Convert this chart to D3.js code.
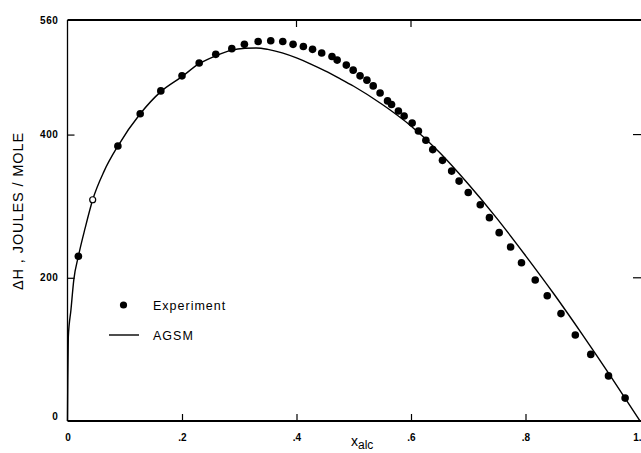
<!DOCTYPE html>
<html>
<head>
<meta charset="utf-8">
<script src="https://cdn.jsdelivr.net/npm/d3@7"></script>
<style>
  html, body { margin: 0; padding: 0; background: #fff; }
  svg { display: block; }
  text { font-family: "Liberation Sans", Arial, sans-serif; fill: #000; }
</style>
</head>
<body>
<div id="chart"></div>
<script>
// experiment points (mole fraction alcohol, heat of mixing J/mol)
const expX = [0.019, 0.088, 0.127, 0.163, 0.2, 0.23, 0.259, 0.287, 0.309, 0.333,
  0.355, 0.376, 0.394, 0.412, 0.428, 0.444, 0.462, 0.471, 0.487, 0.499,
  0.511, 0.523, 0.534, 0.546, 0.559, 0.566, 0.578, 0.588, 0.602, 0.613,
  0.626, 0.638, 0.655, 0.671, 0.684, 0.7, 0.721, 0.737, 0.754, 0.774,
  0.793, 0.817, 0.838, 0.862, 0.887, 0.914, 0.945, 0.974]
const expY = [230, 384, 429, 461, 482, 500, 512, 520, 526, 530,
  531, 530, 526, 523, 519, 514, 509, 504, 497, 490,
  482, 476, 468, 458, 447, 442, 433, 426, 416, 405,
  392, 379, 364, 349, 335, 319, 302, 284, 263, 243,
  221, 197, 175, 150, 120, 93, 63, 32]
// the single open point
const openX = [0.044]
const openY = [309]

// AGSM model curve
const agsmX = [0, 0.0005, 0.0014, 0.006, 0.011, 0.019, 0.031, 0.044, 0.064, 0.088,
  0.127, 0.163, 0.2, 0.23, 0.259, 0.287, 0.31, 0.33, 0.35, 0.375,
  0.4, 0.425, 0.45, 0.475, 0.5, 0.55, 0.6, 0.65, 0.7, 0.75,
  0.8, 0.85, 0.9, 0.95, 1.0]
const agsmY = [0, 57, 117, 155, 197, 230, 270, 309, 349, 384,
  429, 460, 481, 499, 510, 518, 520.5, 521, 519, 514,
  507, 498.5, 489, 478.5, 467.5, 442, 412, 375, 331, 283,
  231, 177, 120, 61, 0]

const xTickVals = [0, 0.2, 0.4, 0.6, 0.8, 1.0]
const xTickLabels = ['0', '.2', '.4', '.6', '.8', '1.']
const yTickVals = [0, 200, 400, 560]
const yTickLabels = ['0', '200', '400', '560']
const legendLabels = ['Experiment', 'AGSM']

const W = 641, H = 453
const svg = d3.select('#chart').append('svg').attr('width', W).attr('height', H)

const x = d3.scaleLinear().domain([0, 1]).range([67.5, 640])
const y = d3.scaleLinear().domain([0, 560]).range([421, 20])

// frame lines
svg.append('line')
  .attr('x1', x(0)).attr('x2', W).attr('y1', y(0)).attr('y2', y(0))
  .attr('stroke', '#000').attr('stroke-width', 2)
svg.append('line')
  .attr('x1', x(0)).attr('x2', W).attr('y1', y(560)).attr('y2', y(560))
  .attr('stroke', '#000').attr('stroke-width', 2)
svg.append('line')
  .attr('x1', x(0)).attr('x2', x(0)).attr('y1', y(0)).attr('y2', y(560))
  .attr('stroke', '#000').attr('stroke-width', 1.3)

// bottom axis, ticks pointing in
const xAxis = d3.axisBottom(x)
  .tickValues(xTickVals)
  .tickFormat((d, i) => xTickLabels[i])
  .tickSizeInner(-7).tickSizeOuter(0).tickPadding(13)
const gx = svg.append('g').attr('transform', `translate(0,${y(0)})`).call(xAxis)
gx.select('.domain').remove()
gx.selectAll('.tick line').attr('stroke-width', 1.2)
  .filter(d => d === 0 || d === 1).remove()
gx.selectAll('text')
  .style('font-size', '10px').style('font-weight', 'bold')
// last label sits on the page edge, keep it inside
gx.selectAll('.tick').filter(d => d === 1).select('text').attr('text-anchor', 'end').attr('dx', 1)

// top ticks
svg.append('g').selectAll('line').data([0.4, 0.6]).join('line')
  .attr('x1', d => x(d)).attr('x2', d => x(d))
  .attr('y1', y(560)).attr('y2', y(560) + 7)
  .attr('stroke', '#000').attr('stroke-width', 1.2)

// left axis
const yAxis = d3.axisLeft(y)
  .tickValues(yTickVals)
  .tickFormat((d, i) => yTickLabels[i])
  .tickSizeInner(-7).tickSizeOuter(0).tickPadding(9)
const gy = svg.append('g').attr('transform', `translate(${x(0)},0)`).call(yAxis)
gy.select('.domain').remove()
gy.selectAll('.tick line').attr('stroke-width', 1.2)
  .filter(d => d === 0 || d === 560).remove()
gy.selectAll('text')
  .style('font-size', '10px').style('font-weight', 'bold')
  .style('letter-spacing', '0.6px')
gy.selectAll('.tick').filter(d => d === 0).select('text').attr('dy', '-0.2em')

// right ticks
svg.append('g').selectAll('line').data([200, 400]).join('line')
  .attr('x1', 633).attr('x2', 641)
  .attr('y1', d => y(d)).attr('y2', d => y(d))
  .attr('stroke', '#000').attr('stroke-width', 1.2)

// axis titles
svg.append('text')
  .attr('transform', `translate(23,${211}) rotate(-90)`)
  .attr('text-anchor', 'middle')
  .style('font-size', '14.5px')
  .style('letter-spacing', '0.9px')
  .text('ΔH , JOULES / MOLE')

const xt = svg.append('text')
  .attr('x', 351).attr('y', 446)
  .style('font-size', '14px')
xt.append('tspan').text('x')
xt.append('tspan').attr('dy', 3).style('font-size', '12px').text('alc')

// AGSM curve
const agsm = agsmX.map((v, i) => [v, agsmY[i]])
svg.append('path')
  .datum(agsm)
  .attr('fill', 'none').attr('stroke', '#000').attr('stroke-width', 1.4)
  .attr('d', d3.line().x(d => x(d[0])).y(d => y(d[1])).curve(d3.curveMonotoneX))

// experiment points
svg.append('g').selectAll('circle').data(expX).join('circle')
  .attr('cx', d => x(d))
  .attr('cy', (d, i) => y(expY[i]))
  .attr('r', 3.8)
  .attr('fill', '#000')
svg.append('g').selectAll('circle').data(openX).join('circle')
  .attr('cx', d => x(d))
  .attr('cy', (d, i) => y(openY[i]))
  .attr('r', 3)
  .attr('fill', '#fff').attr('stroke', '#000').attr('stroke-width', 1.2)

// legend
const lg = svg.append('g')
lg.append('circle').attr('cx', 123.5).attr('cy', 305).attr('r', 3.6).attr('fill', '#000')
lg.append('line').attr('x1', 109).attr('x2', 139).attr('y1', 335).attr('y2', 335)
  .attr('stroke', '#000').attr('stroke-width', 1.4)
lg.selectAll('text').data(legendLabels).join('text')
  .attr('x', 153)
  .attr('y', (d, i) => 309.5 + i * 30)
  .style('font-size', '12.5px')
  .style('letter-spacing', '1px')
  .text(d => d)
</script>
</body>
</html>
